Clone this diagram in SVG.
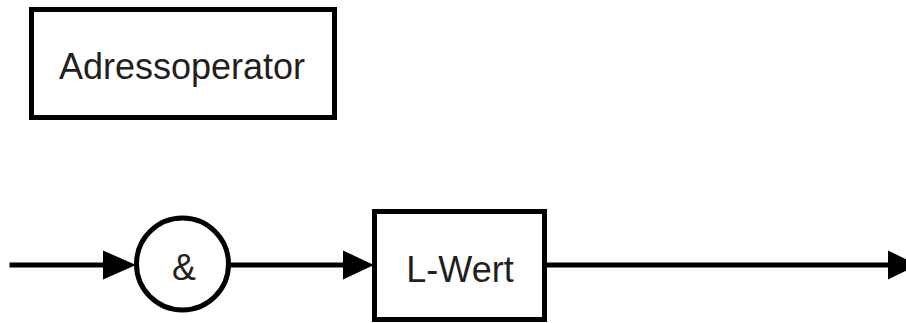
<svg xmlns="http://www.w3.org/2000/svg" width="906" height="323" viewBox="0 0 906 323">
  <style>
    .box { fill: #ffffff; stroke: #000000; stroke-width: 5; }
    .lbl { font-family: "Liberation Sans", Arial, sans-serif; font-size: 36px; fill: #231f20; text-anchor: middle; }
    .flow { stroke: #000000; stroke-width: 5; fill: none; }
    .head { fill: #000000; }
  </style>
  <rect width="906" height="323" fill="#ffffff"/>

  <g id="title">
    <rect class="box" x="31.5" y="9.5" width="303" height="108"/>
    <text class="lbl" x="182" y="79">Adressoperator</text>
  </g>

  <g id="connectors">
    <line class="flow" x1="9.5" y1="265" x2="106" y2="265"/>
    <polygon class="head" points="103,250.5 136,265 103,279.5"/>
    <line class="flow" x1="230" y1="265" x2="346" y2="265"/>
    <polygon class="head" points="343,250.5 374,265 343,279.5"/>
    <line class="flow" x1="546" y1="265" x2="891" y2="265"/>
    <polygon class="head" points="888,250.5 918,265 888,279.5"/>
  </g>

  <g id="amp">
    <circle class="box" cx="182.5" cy="264" r="46"/>
    <text class="lbl" x="184" y="280">&amp;</text>
  </g>

  <g id="lwert">
    <rect class="box" x="374.5" y="211.5" width="170" height="108"/>
    <text class="lbl" x="460" y="282">L-Wert</text>
  </g>
</svg>
